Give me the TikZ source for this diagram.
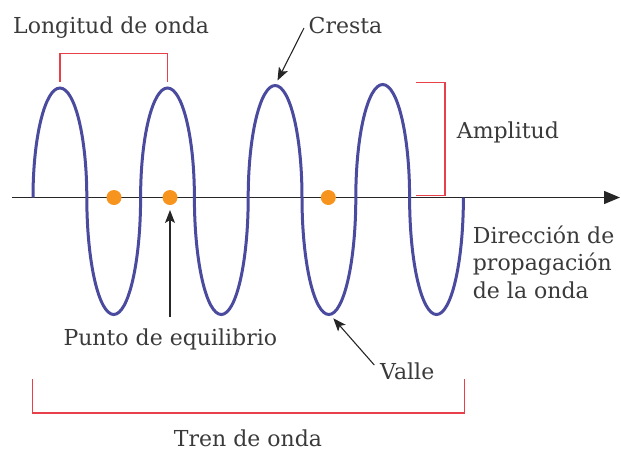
\documentclass[tikz,border=0pt]{standalone}
\usepackage{fontspec}
\setmainfont{DejaVu Serif}
\usetikzlibrary{arrows.meta}
\definecolor{wavec}{HTML}{4A4A9E}
\definecolor{brk}{HTML}{E8404A}
\definecolor{dotc}{HTML}{F7941D}
\definecolor{txt}{HTML}{3A3A3A}
\begin{document}
\begin{tikzpicture}[x=1pt,y=-1pt,
  lbl/.style={inner sep=0pt, text=txt, font=\fontsize{22}{27.5}\selectfont},
  brace/.style={draw=brk, line width=1.2pt},
  pointer/.style={draw=black!85, line width=1.1pt, -{Stealth[length=13pt,width=10pt,inset=3pt]}},
  eqdot/.style={circle, fill=dotc, minimum size=15pt, inner sep=0pt}]
\useasboundingbox (0,0) rectangle (621,451);
% axis
\coordinate (axs) at (12,197.5);
\coordinate (axe) at (620,197.5);
\draw[line width=1.4pt, black!85, -{Triangle[length=16pt,width=13pt]}] (axs) -- (axe);
% wave
\coordinate (w0) at (33,197.5);
\draw[wavec, line width=3pt] (w0)
  arc[start angle=180,end angle=0,x radius=26.9pt,y radius=109.5pt]
  arc[start angle=180,end angle=360,x radius=26.9pt,y radius=117pt]
  arc[start angle=180,end angle=0,x radius=26.9pt,y radius=109.5pt]
  arc[start angle=180,end angle=360,x radius=26.9pt,y radius=117pt]
  arc[start angle=180,end angle=0,x radius=26.9pt,y radius=112pt]
  arc[start angle=180,end angle=360,x radius=26.9pt,y radius=117pt]
  arc[start angle=180,end angle=0,x radius=26.9pt,y radius=113pt]
  arc[start angle=180,end angle=360,x radius=26.9pt,y radius=117pt];
% equilibrium dots
\node[eqdot] (d1) at (114,197.5) {};
\node[eqdot] (d2) at (170,197.5) {};
\node[eqdot] (d3) at (328.3,197.5) {};
% brackets
\draw[brace] (60,81.5) |- (167.3,53.3) -- (167.3,81.5);
\draw[brace] (415.7,82.3) -| (445,195.7) -- (415.7,195.7);
\draw[brace] (32.3,379.3) |- (464.3,413) -- (464.3,379.3);
% labels
\node[lbl, anchor=base west] (lon) at (13,33.3) {Longitud de onda};
\node[lbl, anchor=base west] (cre) at (308.5,33.3) {Cresta};
\node[lbl, anchor=base west] (amp) at (456.7,138.3) {Amplitud};
\node[lbl, anchor=base west, align=left] (dir) at (472.7,298.3) {Dirección de\\propagación\\de la onda};
\node[lbl, anchor=base west] (pun) at (63.3,345) {Punto de equilibrio};
\node[lbl, anchor=base west] (val) at (380,379.3) {Valle};
\node[lbl, anchor=base] (tren) at (248,446) {Tren de onda};
% pointers
\coordinate (crs) at (304,28);
\coordinate (crt) at (277.5,80.5);
\draw[pointer] (crs) -- (crt);
\coordinate (pus) at (170,317);
\coordinate (put) at (170,210);
\draw[pointer] (pus) -- (put);
\coordinate (vas) at (374.3,365);
\coordinate (vat) at (333.3,318.3);
\draw[pointer] (vas) -- (vat);
\end{tikzpicture}
\end{document}
